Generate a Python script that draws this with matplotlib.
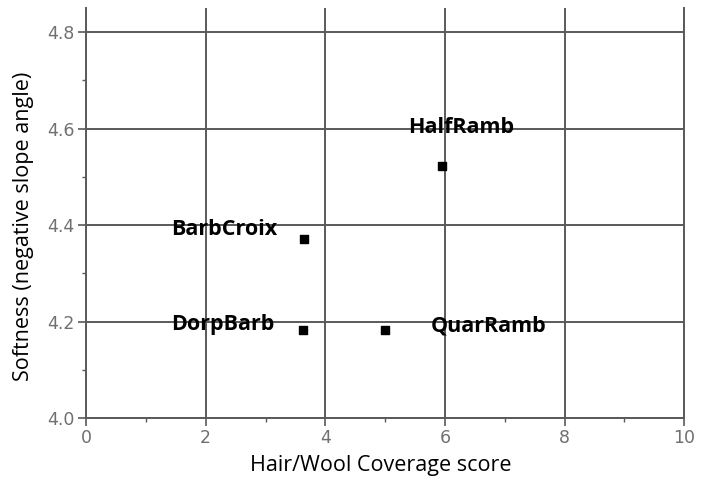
import numpy as np
import matplotlib.pyplot as plt
from matplotlib.ticker import MultipleLocator

# data
breeds = ["BarbCroix", "DorpBarb", "QuarRamb", "HalfRamb"]
coverage = [3.65, 3.63, 5.0, 5.95]
softness = [4.372, 4.182, 4.182, 4.523]
# label anchor (left edge, center y)
label_x = [1.43, 1.42, 5.77, 5.38]
label_y = [4.392, 4.194, 4.19, 4.603]

fig = plt.figure(figsize=(7.08, 4.80), dpi=100)
ax = fig.add_axes([0.1215, 0.129, 0.845, 0.854])

ax.scatter(coverage, softness, marker="s", s=30, color="black", zorder=3)
for name, lx, ly in zip(breeds, label_x, label_y):
    ax.text(lx, ly, name, fontsize=15.5, fontweight="bold", family="Open Sans",
            ha="left", va="center", zorder=4)

ax.set_xlim(0, 10)
ax.set_ylim(4.0, 4.85)
ax.xaxis.set_major_locator(MultipleLocator(2))
ax.xaxis.set_minor_locator(MultipleLocator(1))
ax.yaxis.set_major_locator(MultipleLocator(0.2))
ax.yaxis.set_minor_locator(MultipleLocator(0.1))
ax.yaxis.set_major_formatter(plt.FuncFormatter(lambda v, p: f"{v:.1f}"))

gc = "#5a5a5a"
ax.grid(True, which="major", color=gc, linewidth=1.4)
for s in ax.spines.values():
    s.set_color(gc)
    s.set_linewidth(1.4)
ax.spines["top"].set_visible(False)

ax.tick_params(which="major", direction="out", length=6, width=1.2, color=gc,
               labelsize=12.5, labelcolor="#707070", pad=2)
ax.tick_params(which="minor", direction="out", length=3, width=1.0, color=gc)

# axis titles placed in figure pixels like the reference
fig.text(381 / 708, 1 - 466 / 480, "Hair/Wool Coverage score", fontsize=15.5,
         family="Open Sans", ha="center", va="center")
fig.text(24 / 708, 1 - 226 / 480, "Softness (negative slope angle)", fontsize=15.5,
         family="Open Sans", rotation=90, ha="center", va="center")

fig.savefig("out.png", dpi=100)
